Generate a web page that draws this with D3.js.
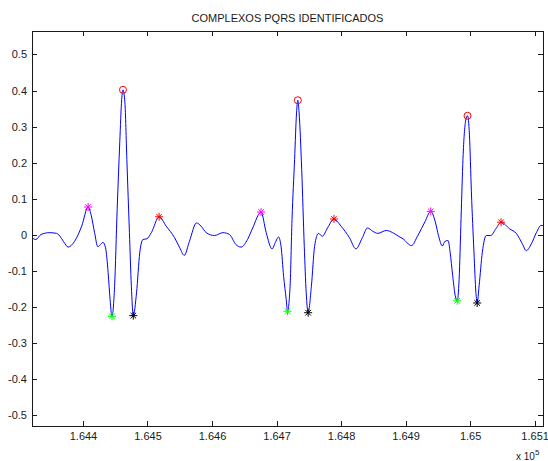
<!doctype html>
<html lang="en">
<head>
    <meta charset="utf-8">
    <title>Complexos PQRS</title>
    <script src="https://d3js.org/d3.v7.min.js"></script>
    <style>
        body { margin: 0; background: #fff; }
        svg text { font-family: "Liberation Sans", Arial, sans-serif; font-size: 11px; fill: #1a1a1a; }
        .axis path, .axis line { stroke: #1a1a1a; shape-rendering: crispEdges; }
    </style>
</head>
<body>
    <div id="chart"></div>

    <script>
        // ECG samples (sample index, amplitude)
        var sampleX = [164321, 164327, 164335, 164348, 164359, 164364, 164370, 164377, 164387, 164398,
                       164408, 164413, 164418, 164423, 164427, 164431, 164435, 164439, 164442, 164445,
                       164449, 164453, 164457, 164460, 164462, 164465, 164468, 164472, 164475, 164478,
                       164483, 164488, 164493, 164499, 164506, 164518, 164529, 164542, 164550, 164557,
                       164565, 164576, 164583, 164591, 164604, 164617, 164627, 164637, 164645, 164655,
                       164663, 164676, 164684, 164693, 164699, 164703, 164707, 164711, 164715, 164717,
                       164721, 164724, 164728, 164731, 164733, 164735, 164739, 164743, 164746, 164749,
                       164754, 164759, 164765, 164771, 164779, 164789, 164800, 164813, 164823, 164833,
                       164841, 164849, 164857, 164870, 164880, 164890, 164896, 164909, 164919, 164930,
                       164939, 164946, 164951, 164957, 164961, 164966, 164969, 164973, 164977, 164980,
                       164983, 164986, 164989, 164993, 164996, 164999, 165002, 165006, 165009, 165011,
                       165014, 165019, 165025, 165032, 165040, 165048, 165061, 165072, 165081, 165087,
                       165095, 165103, 165110, 165115];
        var sampleY = [-0.008, -0.013, 0.001, 0.006, 0.004, -0.003, -0.019, -0.034, -0.018, 0.024,
                       0.077, 0.052, 0.006, -0.033, -0.027, -0.021, -0.036, -0.105, -0.179, -0.226,
                       -0.143, 0.070, 0.255, 0.375, 0.402, 0.366, 0.209, 0.006, -0.143, -0.224,
                       -0.161, -0.050, -0.013, -0.011, 0.006, 0.050, 0.024, -0.008, -0.036, -0.057,
                       -0.018, 0.033, 0.024, 0.006, -0.002, 0.006, 0.001, -0.027, -0.034, -0.013,
                       0.019, 0.063, 0.006, -0.039, -0.018, -0.006, -0.032, -0.115, -0.179, -0.212,
                       -0.143, 0.042, 0.209, 0.338, 0.373, 0.338, 0.181, -0.032, -0.161, -0.216,
                       -0.143, -0.032, 0.004, -0.004, 0.019, 0.044, 0.024, -0.008, -0.039, -0.008,
                       0.019, 0.010, 0.004, 0.012, 0.006, -0.005, -0.011, -0.030, -0.002, 0.036,
                       0.065, 0.036, -0.002, -0.031, -0.018, -0.016, -0.048, -0.113, -0.169, -0.183,
                       -0.123, 0.045, 0.212, 0.315, 0.330, 0.277, 0.119, -0.048, -0.160, -0.189,
                       -0.141, -0.048, -0.002, -0.002, 0.017, 0.035, 0.017, 0.003, -0.025, -0.044,
                       -0.025, 0.007, 0.026, 0.026];

        // Detected points of each complex
        var pX = [164408, 164676, 164939];  var pY = [0.077, 0.063, 0.065];
        var qX = [164445, 164717, 164980];  var qY = [-0.226, -0.212, -0.183];
        var rX = [164462, 164733, 164996];  var rY = [0.402, 0.373, 0.330];
        var sX = [164478, 164749, 165011];  var sY = [-0.224, -0.216, -0.189];
        var tX = [164518, 164789, 165048];  var tY = [0.050, 0.044, 0.035];

        // Ticks
        var xTicks      = [164400, 164500, 164600, 164700, 164800, 164900, 165000, 165100];
        var xTickLabels = ["1.644", "1.645", "1.646", "1.647", "1.648", "1.649", "1.65", "1.651"];
        var yTicks      = [0.5, 0.4, 0.3, 0.2, 0.1, 0, -0.1, -0.2, -0.3, -0.4, -0.5];
        var yTickLabels = ["0.5", "0.4", "0.3", "0.2", "0.1", "0", "-0.1", "-0.2", "-0.3", "-0.4", "-0.5"];

        // Graph size
        var svgWidth  = 548;
        var svgHeight = 461;
        var margin = { left: 32, top: 31, right: 5, bottom: 35 };
        var width  = svgWidth - margin.left - margin.right;
        var height = svgHeight - margin.top - margin.bottom;

        var x = d3.scaleLinear().domain([164321, 165113]).range([0, width]);
        var y = d3.scaleLinear().domain([-0.530, 0.565]).range([height, 0]);

        var svg = d3.select("#chart")
            .append("svg")
            .attr("width", svgWidth)
            .attr("height", svgHeight);

        // Title
        svg.append("text")
            .attr("x", margin.left + width / 2)
            .attr("y", 22)
            .attr("text-anchor", "middle")
            .text("COMPLEXOS PQRS IDENTIFICADOS");

        var g = svg.append("g")
            .attr("transform", "translate(" + margin.left + "," + margin.top + ")");

        g.append("clipPath").attr("id", "clip")
            .append("rect").attr("width", width).attr("height", height);

        // Axes (ticks pointing inward, box around plot)
        g.append("g").attr("class", "axis")
            .attr("transform", "translate(0," + height + ")")
            .call(d3.axisBottom(x).tickValues(xTicks)
                .tickFormat(function(d, i) { return xTickLabels[i]; })
                .tickSizeInner(-5).tickSizeOuter(0).tickPadding(6));

        g.append("g").attr("class", "axis")
            .call(d3.axisLeft(y).tickValues(yTicks)
                .tickFormat(function(d, i) { return yTickLabels[i]; })
                .tickSizeInner(-5).tickSizeOuter(0).tickPadding(5));

        g.append("g").attr("class", "axis")
            .call(d3.axisTop(x).tickValues(xTicks).tickFormat("")
                .tickSizeInner(-5).tickSizeOuter(0));

        g.append("g").attr("class", "axis")
            .attr("transform", "translate(" + width + ",0)")
            .call(d3.axisRight(y).tickValues(yTicks).tickFormat("")
                .tickSizeInner(-5).tickSizeOuter(0));

        g.selectAll(".axis text").style("font-size", "11px").attr("fill", "#1a1a1a");

        // Exponent label
        var expo = svg.append("text")
            .attr("x", 516)
            .attr("y", 460)
            .style("font-size", "10px");
        expo.append("tspan").text("x 10");
        expo.append("tspan").attr("dy", -5).style("font-size", "8px").text("5");

        // Signal line
        var line = d3.line()
            .x(function(d, i) { return x(sampleX[i]); })
            .y(function(d) { return y(d); })
            .curve(d3.curveMonotoneX);

        g.append("path")
            .attr("clip-path", "url(#clip)")
            .attr("d", line(sampleY))
            .attr("fill", "none")
            .attr("stroke", "#0000ff")
            .attr("stroke-width", 1);

        // MATLAB style '*' marker
        function starPath(s) {
            var d = s * 0.7;
            return "M" + (-s) + ",0L" + s + ",0M0," + (-s) + "L0," + s +
                   "M" + (-d) + "," + (-d) + "L" + d + "," + d +
                   "M" + (-d) + "," + d + "L" + d + "," + (-d);
        }

        function addStars(xs, ys, color) {
            g.selectAll(null)
                .data(ys)
                .enter()
                .append("path")
                .attr("transform", function(d, i) { return "translate(" + x(xs[i]) + "," + y(d) + ")"; })
                .attr("d", starPath(4))
                .attr("fill", "none")
                .attr("stroke", color)
                .attr("stroke-width", 1);
        }

        addStars(pX, pY, "#ff00ff");
        addStars(qX, qY, "#00ff00");
        addStars(sX, sY, "#000000");
        addStars(tX, tY, "#ff0000");

        // R peaks as circles
        g.selectAll(null)
            .data(rY)
            .enter()
            .append("circle")
            .attr("cx", function(d, i) { return x(rX[i]); })
            .attr("cy", function(d) { return y(d); })
            .attr("r", 3.5)
            .attr("fill", "none")
            .attr("stroke", "#ff0000")
            .attr("stroke-width", 1);

        // Box
        g.append("rect")
            .attr("width", width)
            .attr("height", height)
            .attr("fill", "none")
            .attr("stroke", "#1a1a1a")
            .attr("shape-rendering", "crispEdges");
    </script>
</body>
</html>
